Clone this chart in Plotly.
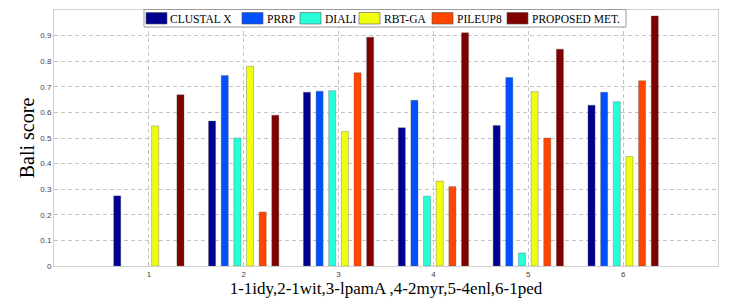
import plotly.graph_objects as go

groups = [1, 2, 3, 4, 5, 6]
series_names = ["CLUSTAL X", "PRRP", "DIALI", "RBT-GA", "PILEUP8", "PROPOSED MET."]
clustal = [0.274, 0.566, 0.679, 0.540, 0.549, 0.628]
prrp = [None, 0.744, 0.683, 0.647, 0.736, 0.679]
diali = [None, 0.500, 0.685, 0.273, 0.051, 0.642]
rbtga = [0.547, 0.780, 0.525, 0.332, 0.681, 0.428]
pileup = [None, 0.211, 0.755, 0.310, 0.500, 0.724]
proposed = [0.669, 0.589, 0.894, 0.911, 0.847, 0.977]
series_values = [clustal, prrp, diali, rbtga, pileup, proposed]
colors = ["#000090", "#0050FF", "#28FFD8", "#F0FF10", "#FF4500", "#800000"]
ytick_vals = [0, 0.1, 0.2, 0.3, 0.4, 0.5, 0.6, 0.7, 0.8, 0.9, 1]
ytick_text = ["0", "0.1", "0.2", "0.3", "0.4", "0.5", "0.6", "0.7", "0.8", "0.9", "1"]

# page body has an 8px margin, so the figure is laid out in shifted coordinates
OFF = 8
W, H = 750 - OFF, 307 - OFF
L, R, T, B = 54 - OFF, 32, 2, 41
PW, PH = W - L - R, H - T - B

def px(x):
    return (x - OFF - L) / PW

def py(y):
    return (H - B - (y - OFF)) / PH

fig = go.Figure()
for name, vals, col in zip(series_names, series_values, colors):
    fig.add_trace(go.Bar(
        x=groups, y=vals, name=name, marker_color=col,
        marker_line=dict(color="rgba(90,90,90,0.6)", width=0.6),
        showlegend=False,
    ))

serif = "Liberation Serif, Times New Roman, serif"
shapes = []
annotations = []
# legend box
shapes.append(dict(type="rect", xref="paper", yref="paper",
                   x0=px(144), x1=px(626), y0=py(27), y1=py(9.5),
                   fillcolor="white", line=dict(color="#9a9a9a", width=1), layer="above"))
sw_x = [146, 242, 300, 359, 432, 507]
tx_x = [168, 265, 323, 382, 455, 530]
for sx, tx, name, col in zip(sw_x, tx_x, series_names, colors):
    shapes.append(dict(type="rect", xref="paper", yref="paper",
                       x0=px(sx), x1=px(sx + 21), y0=py(24), y1=py(12.5),
                       fillcolor=col, line=dict(color="#555", width=0.6), layer="above"))
    annotations.append(dict(xref="paper", yref="paper", x=px(tx), y=py(18.5),
                            xanchor="left", yanchor="middle", showarrow=False,
                            text=name, font=dict(family=serif, size=11.5, color="black")))

fig.update_layout(
    width=W, height=H,
    margin=dict(l=L, r=R, t=T, b=B, autoexpand=False),
    paper_bgcolor="white", plot_bgcolor="white",
    barmode="group", bargap=0.2, bargroupgap=0.44,
    shapes=shapes, annotations=annotations,
    xaxis=dict(
        range=[0, 7], tickvals=groups, ticktext=[str(g) for g in groups],
        showgrid=True, gridcolor="#c4c4c4", griddash="4px,3px", gridwidth=1,
        showline=True, linecolor="#d0d0d0", linewidth=1, mirror=True,
        ticks="", tickfont=dict(family="Liberation Sans, Arial, sans-serif", size=8, color="#444"),
        title=dict(text="1-1idy,2-1wit,3-lpamA ,4-2myr,5-4enl,6-1ped",
                   font=dict(family=serif, size=17, color="black"), standoff=0),
        zeroline=False, automargin=False,
    ),
    yaxis=dict(
        range=[0, 1], tickvals=ytick_vals, ticktext=ytick_text,
        showgrid=True, gridcolor="#c4c4c4", griddash="4px,3px", gridwidth=1,
        showline=True, linecolor="#d0d0d0", linewidth=1, mirror=True,
        ticks="", tickfont=dict(family="Liberation Sans, Arial, sans-serif", size=8, color="#444"),
        title=dict(text="Bali score", font=dict(family=serif, size=20, color="black"), standoff=0),
        zeroline=False, automargin=False,
    ),
)

fig.write_html("out.html")
